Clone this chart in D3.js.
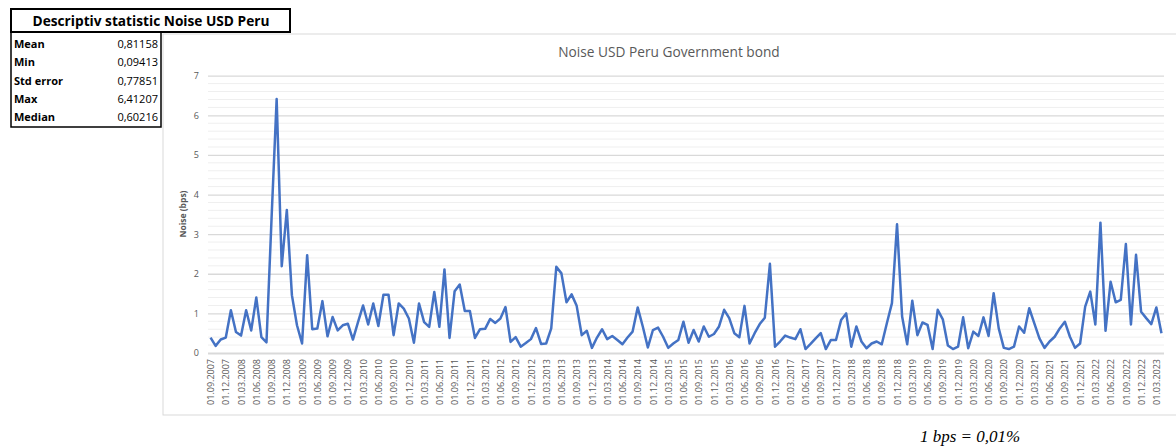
<!DOCTYPE html>
<html>
<head>
<meta charset="utf-8">
<title>Noise USD Peru</title>
<script src="https://cdn.jsdelivr.net/npm/d3@7/dist/d3.min.js"></script>
<style>
  body { margin: 0; background: #fff; }
  svg { display: block; }
  .stat-label { font-family: "Open Sans", sans-serif; font-weight: bold; font-size: 11px; fill: #000; }
  .stat-value { font-family: "Open Sans", sans-serif; font-size: 11px; fill: #000; }
  .axis text { font-family: "Open Sans", sans-serif; font-size: 9px; fill: #595959; }
</style>
</head>
<body>
<svg width="1176" height="447"></svg>
<script>
// stats table
var statTitle = "Descriptiv statistic Noise USD Peru";
var statLabels = ["Mean", "Min", "Std error", "Max", "Median"];
var statValues = ["0,81158", "0,09413", "0,77851", "6,41207", "0,60216"];

// monthly noise (bps), 09.2007 .. 04.2023
var months = d3.timeMonths(new Date(2007, 8, 1), new Date(2023, 4, 1));
var noise = [
  0.39, 0.18, 0.34, 0.39, 1.08, 0.53, 0.44, 1.08, 0.57, 1.40,
  0.40, 0.27, 3.40, 6.41, 2.19, 3.61, 1.46, 0.70, 0.24, 2.47,
  0.60, 0.62, 1.31, 0.42, 0.91, 0.57, 0.70, 0.74, 0.34, 0.78,
  1.20, 0.72, 1.25, 0.68, 1.47, 1.47, 0.45, 1.25, 1.12, 0.87,
  0.26, 1.25, 0.78, 0.66, 1.54, 0.66, 2.11, 0.38, 1.56, 1.73,
  1.06, 1.06, 0.38, 0.60, 0.61, 0.86, 0.76, 0.87, 1.16, 0.28,
  0.40, 0.16, 0.25, 0.35, 0.63, 0.23, 0.24, 0.62, 2.18, 2.01,
  1.28, 1.48, 1.19, 0.45, 0.56, 0.13, 0.39, 0.60, 0.35, 0.43,
  0.33, 0.22, 0.39, 0.54, 1.15, 0.67, 0.14, 0.58, 0.64, 0.41,
  0.13, 0.24, 0.33, 0.79, 0.26, 0.58, 0.29, 0.67, 0.41, 0.48,
  0.67, 1.09, 0.88, 0.50, 0.40, 1.19, 0.24, 0.50, 0.73, 0.89,
  2.25, 0.16, 0.29, 0.44, 0.39, 0.35, 0.60, 0.10, 0.23, 0.37,
  0.50, 0.10, 0.33, 0.33, 0.83, 1.00, 0.16, 0.67, 0.29, 0.12,
  0.24, 0.29, 0.22, 0.75, 1.26, 3.25, 0.92, 0.22, 1.32, 0.45,
  0.77, 0.71, 0.10, 1.09, 0.85, 0.19, 0.10, 0.16, 0.90, 0.12,
  0.54, 0.43, 0.90, 0.43, 1.51, 0.62, 0.13, 0.10, 0.16, 0.67,
  0.51, 1.13, 0.75, 0.37, 0.13, 0.29, 0.41, 0.62, 0.79, 0.41,
  0.13, 0.24, 1.17, 1.55, 0.72, 3.29, 0.56, 1.80, 1.28, 1.34,
  2.75, 0.72, 2.48, 1.04, 0.88, 0.73, 1.15, 0.50
];
var yTicks = [0, 1, 2, 3, 4, 5, 6, 7];
var tickLabels = [
  "01.09.2007","01.12.2007","01.03.2008","01.06.2008","01.09.2008","01.12.2008",
  "01.03.2009","01.06.2009","01.09.2009","01.12.2009","01.03.2010","01.06.2010",
  "01.09.2010","01.12.2010","01.03.2011","01.06.2011","01.09.2011","01.12.2011",
  "01.03.2012","01.06.2012","01.09.2012","01.12.2012","01.03.2013","01.06.2013",
  "01.09.2013","01.12.2013","01.03.2014","01.06.2014","01.09.2014","01.12.2014",
  "01.03.2015","01.06.2015","01.09.2015","01.12.2015","01.03.2016","01.06.2016",
  "01.09.2016","01.12.2016","01.03.2017","01.06.2017","01.09.2017","01.12.2017",
  "01.03.2018","01.06.2018","01.09.2018","01.12.2018","01.03.2019","01.06.2019",
  "01.09.2019","01.12.2019","01.03.2020","01.06.2020","01.09.2020","01.12.2020",
  "01.03.2021","01.06.2021","01.09.2021","01.12.2021","01.03.2022","01.06.2022",
  "01.09.2022","01.12.2022","01.03.2023"
];

var fmt = d3.timeFormat("%d.%m.%Y");
var data = months.map(function (m, i) { return {date: m, key: fmt(m), value: noise[i]}; });

var svg = d3.select("svg");

// ---- stats table ----
var tbl = svg.append("g");
tbl.append("rect").attr("x", 11).attr("y", 9).attr("width", 279).attr("height", 23)
  .attr("fill", "none").attr("stroke", "#000").attr("stroke-width", 2);
tbl.append("text").attr("x", 151).attr("y", 25.5).attr("text-anchor", "middle")
  .attr("font-family", "Open Sans, sans-serif").attr("font-weight", "bold").attr("font-size", 13.7)
  .text(statTitle);
tbl.append("path").attr("d", "M11,32 V127 H161 V32")
  .attr("fill", "none").attr("stroke", "#000").attr("stroke-width", 1.5);
var rowY = d3.scaleBand().domain(statLabels).range([35, 126]);
tbl.selectAll(".stat-label").data(statLabels).enter().append("text")
  .attr("class", "stat-label").attr("x", 14)
  .attr("y", function (d) { return rowY(d) + rowY.bandwidth() / 2 + 4; })
  .text(function (d) { return d; });
tbl.selectAll(".stat-value").data(statValues).enter().append("text")
  .attr("class", "stat-value").attr("x", 158).attr("text-anchor", "end")
  .attr("y", function (d, i) { return rowY(statLabels[i]) + rowY.bandwidth() / 2 + 4; })
  .text(function (d) { return d; });

// ---- chart frame ----
svg.append("rect").attr("x", 163).attr("y", 34).attr("width", 1030).attr("height", 381)
  .attr("fill", "#fff").attr("stroke", "#d9d9d9").attr("stroke-width", 1);

svg.append("text").attr("x", 669).attr("y", 57).attr("text-anchor", "middle")
  .attr("font-family", "Open Sans, sans-serif").attr("font-size", 13.7).attr("fill", "#595959")
  .text("Noise USD Peru Government bond");

var x = d3.scalePoint().domain(data.map(function (d) { return d.key; }))
  .range([208, 1164]).padding(0.5);
var y = d3.scaleLinear().domain([0, 7]).range([353, 75.7]);

// minor grid
svg.append("g").selectAll("line").data(d3.range(0, 7.01, 0.2).filter(function (v) {
    return Math.abs(v - Math.round(v)) > 0.01; }))
  .enter().append("line")
  .attr("x1", 208).attr("x2", 1164)
  .attr("y1", function (d) { return y(d); }).attr("y2", function (d) { return y(d); })
  .attr("stroke", "#efefef").attr("stroke-width", 1);

// y axis with major grid
var yAxis = svg.append("g").attr("class", "axis").attr("transform", "translate(208,0)")
  .call(d3.axisLeft(y).tickValues(yTicks).tickSize(-956).tickPadding(9).tickFormat(d3.format("d")));
yAxis.select(".domain").remove();
yAxis.selectAll(".tick line").attr("stroke", "#d9d9d9").attr("stroke-width", 1.3);
yAxis.selectAll(".tick line").filter(function (d) { return d === 0; }).attr("stroke-width", 1.8);

svg.append("text").attr("transform", "translate(186,214) rotate(-90)")
  .attr("text-anchor", "middle").attr("font-family", "Open Sans, sans-serif")
  .attr("font-weight", "bold").attr("font-size", 8.5).attr("fill", "#595959")
  .text("Noise (bps)");

// x axis labels
var xAxis = svg.append("g").attr("class", "axis").attr("transform", "translate(0,353)")
  .call(d3.axisBottom(x).tickValues(tickLabels).tickSize(0));
xAxis.select(".domain").remove();
xAxis.selectAll("text").attr("transform", "rotate(-90)")
  .attr("text-anchor", "end").attr("x", -6).attr("y", 0).attr("dy", "0.35em")
  .attr("font-size", 8.5);

// line
var line = d3.line().x(function (d) { return x(d.key); }).y(function (d) { return y(d.value); });
svg.append("path").datum(data).attr("d", line)
  .attr("fill", "none").attr("stroke", "#4472c4").attr("stroke-width", 2.5)
  .attr("stroke-linejoin", "round");

// footnote
svg.append("text").attr("x", 970).attr("y", 442).attr("text-anchor", "middle")
  .attr("font-family", "Liberation Serif, serif").attr("font-style", "italic").attr("font-size", 17)
  .text("1 bps = 0,01%");
</script>
</body>
</html>
